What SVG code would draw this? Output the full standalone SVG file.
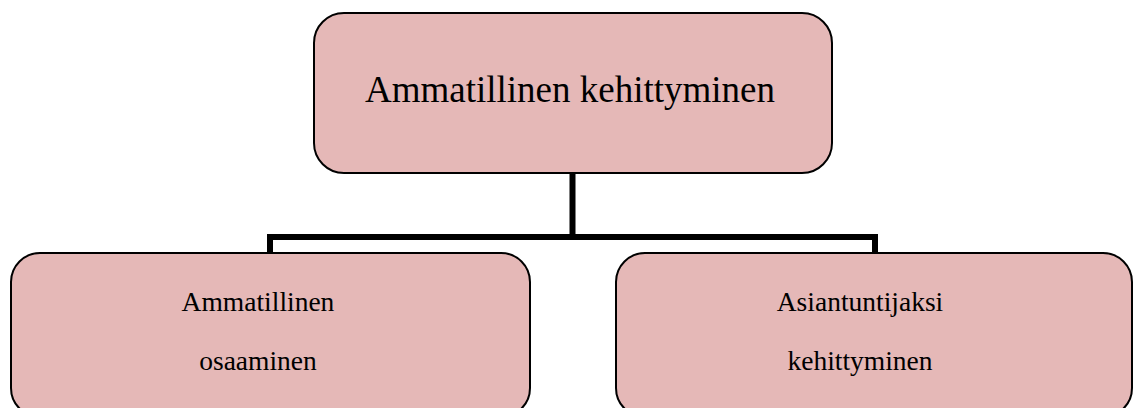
<svg xmlns="http://www.w3.org/2000/svg" width="1133" height="408" viewBox="0 0 1133 408">
<style>
.box{fill:#E5B8B7;stroke:#000;stroke-width:2}
.t{font-family:"Liberation Serif","Times New Roman",serif;fill:#000;text-anchor:middle}
.big{font-size:37px}
.sm{font-size:27.5px}
.conn{fill:none;stroke:#000;stroke-width:6;stroke-linecap:square;stroke-linejoin:miter}
</style>
<rect width="1133" height="408" fill="#fff"/>
<g id="connectors">
<path class="conn" d="M572.5 174 V237 M270 252 V237 H875 V252"/>
</g>
<g id="node-top">
<rect class="box" x="314" y="13" width="518" height="160" rx="30" ry="30"/>
<text class="t big" x="570" y="102">Ammatillinen kehittyminen</text>
</g>
<g id="node-left">
<rect class="box" x="11" y="253" width="519" height="164" rx="29" ry="29"/>
<text class="t sm" x="258" y="311">Ammatillinen</text>
<text class="t sm" x="258" y="370">osaaminen</text>
</g>
<g id="node-right">
<rect class="box" x="616" y="253" width="516" height="164" rx="29" ry="29"/>
<text class="t sm" x="860" y="311">Asiantuntijaksi</text>
<text class="t sm" x="860" y="370">kehittyminen</text>
</g>
</svg>
